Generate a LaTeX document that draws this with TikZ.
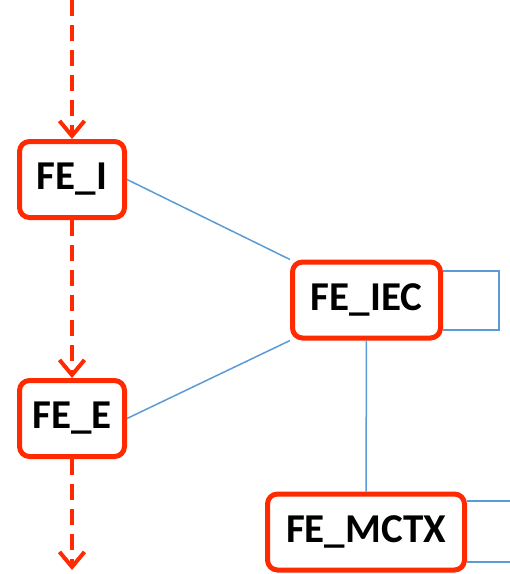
\documentclass[tikz,border=0pt]{standalone}
\usepackage{fontspec}
\setmainfont{Carlito}
\usetikzlibrary{arrows.meta, positioning}
\definecolor{cred}{HTML}{FF2A00}
\definecolor{cblue}{HTML}{5B9BD5}
\tikzset{
  every picture/.style={x=1pt, y=-1pt},
  box/.style={draw=cred, fill=white, line width=5pt, rounded corners=10pt,
    minimum height=76pt, minimum width=#1, inner sep=0pt,
    font=\bfseries\fontsize{41}{45}\selectfont},
  box/.default=105pt,
  arrow/.style={-{Straight Barb[length=15pt, width=25pt, line width=4pt]},
    draw=cred, line width=4pt, dash pattern=on 16pt off 9pt},
  link/.style={draw=cblue, line width=1.5pt},
}

\begin{document}
\begin{tikzpicture}
  \useasboundingbox (0,0) rectangle (510,574);
  \node[box] (fei) at (72,179.5) {FE\_I};
  \node[box] (fee) at (72,418.5) {FE\_E};
  \node[box=148pt] (iec) at (366.5,300) {FE\_IEC};
  \node[box=197pt] (mctx) at (366,532) {FE\_MCTX};
  \coordinate (in) at (72,0);
  \coordinate (out) at (72,570);
  \coordinate (rtop) at (510,501);
  \coordinate (rbot) at (510,562);
  % flow down the left column
  \draw[arrow] (in) -- (fei);
  \draw[arrow] (fei) -- (fee);
  \draw[arrow] (fee) -- (out);
  % links to FE_IEC
  \draw[link] (fei.east) -- (iec.north west);
  \draw[link] (fee.east) -- (iec.south west);
  \draw[link] ([yshift=29pt]iec.east) -- ++(56,0) |- ([yshift=-30pt]iec.east);
  \draw[link] (iec) -- (mctx);
  \draw[link] ([yshift=31pt]mctx.east) -- (rtop);
  \draw[link] ([yshift=-30pt]mctx.east) -- (rbot);
\end{tikzpicture}
\end{document}
